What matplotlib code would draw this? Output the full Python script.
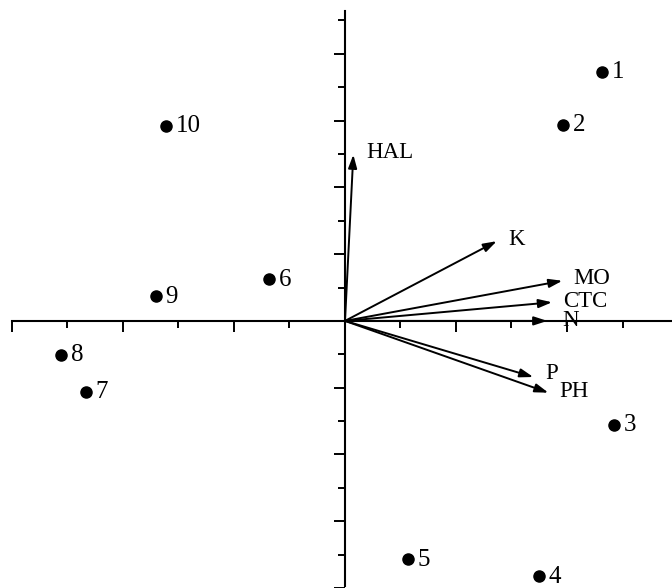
import matplotlib.pyplot as plt
import numpy as np

# Puntos (muestras) y vectores (variables) del biplot
muestras = ['1', '2', '3', '4', '5', '6', '7', '8', '9', '10']
comp1 = [2.315, 1.964, 2.423, 1.748, 0.568, -0.685, -2.333, -2.559, -1.703, -1.613]
comp2 = [3.731, 2.940, -1.552, -3.821, -3.567, 0.627, -1.060, -0.507, 0.373, 2.925]

variables = ['HAL', 'K', 'MO', 'CTC', 'N', 'P', 'PH']
vec1 = [0.075, 1.367, 1.958, 1.865, 1.823, 1.696, 1.832]
vec2 = [2.490, 1.194, 0.601, 0.279, 0.000, -0.840, -1.075]

# desplazamiento de las etiquetas de los vectores (puntos)
desplaz = {'HAL': (9.5, 1.5), 'K': (8, 1), 'MO': (8, 1.5), 'CTC': (8, 0.5),
           'N': (10.5, 0), 'P': (8.5, 2.5), 'PH': (8, 0.5)}

plt.rcParams['font.family'] = ['Liberation Serif', 'DejaVu Serif']

fig = plt.figure(figsize=(6.72, 5.88), dpi=100)
ax = fig.add_axes([0, 0, 1, 1])
ax.set_xlim(-345 / 111, 327 / 111)
ax.set_ylim(-266 / 67, 322 / 67)

# ejes que pasan por el origen
for lado in ['top', 'right']:
    ax.spines[lado].set_visible(False)
ax.spines['left'].set_position(('data', 0))
ax.spines['bottom'].set_position(('data', 0))
ax.spines['left'].set_bounds(-266 / 67, 311 / 67)
ax.spines['bottom'].set_bounds(-3, 327 / 111)
ax.spines['left'].set_linewidth(1.5)
ax.spines['bottom'].set_linewidth(1.5)

ax.set_xticks(np.arange(-3, 3, 1))
ax.set_xticks(np.arange(-2.5, 3, 1), minor=True)
ax.set_yticks(np.arange(-4, 5, 1))
ax.set_yticks(np.arange(-3.5, 5, 1), minor=True)
ax.tick_params(which='major', direction='out', length=8, width=1.4, labelbottom=False, labelleft=False)
ax.tick_params(which='minor', direction='out', length=5, width=1.4)

# muestras
ax.plot(comp1, comp2, 'o', color='black', markersize=8, zorder=3)
for nom, x, y in zip(muestras, comp1, comp2):
    ax.annotate(nom, (x, y), xytext=(7, -0.5), textcoords='offset points',
                va='center', ha='left', fontsize=18)

# vectores
for nom, x, y in zip(variables, vec1, vec2):
    ax.annotate('', xy=(x, y), xytext=(0, 0),
                arrowprops=dict(arrowstyle='-|>,head_length=0.8,head_width=0.26',
                                lw=1.4, color='black', shrinkA=0, shrinkB=0))
    dx, dy = desplaz[nom]
    ax.annotate(nom, (x, y), xytext=(dx, dy), textcoords='offset points',
                va='center', ha='left', fontsize=16.5)

fig.savefig('out.png', dpi=100)
